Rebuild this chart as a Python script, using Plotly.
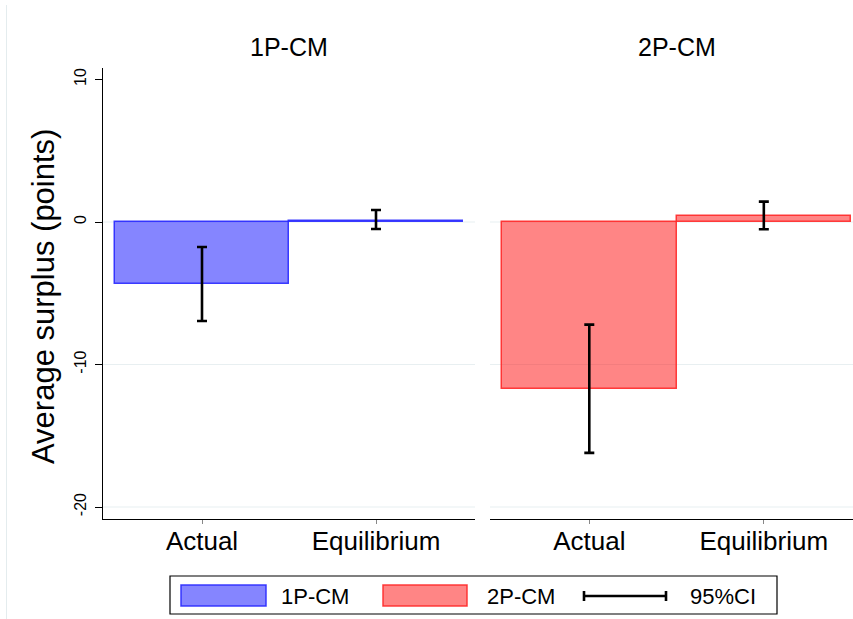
import plotly.graph_objects as go

# ---- data -------------------------------------------------------------
categories = ["Actual", "Equilibrium"]
panels = ["1P-CM", "2P-CM"]

mean_1p = [-4.35, 0.08]
ci_hi_1p = [-1.75, 0.84]
ci_lo_1p = [-6.95, -0.49]

mean_2p = [-11.70, 0.42]
ci_hi_2p = [-7.20, 1.43]
ci_lo_2p = [-16.20, -0.51]

y_ticks = [10, 0, -10, -20]
grid_vals = [0, -10, -20]

# ---- styling ----------------------------------------------------------
W, H = 853, 619
FONT = "Arial, Liberation Sans, sans-serif"
BLUE_FILL = "rgba(0,0,255,0.48)"
BLUE_EDGE = "rgba(40,40,255,0.9)"
RED_FILL = "rgba(255,0,0,0.48)"
RED_EDGE = "rgba(255,40,40,0.9)"
GRID = "#e8eff1"


def px(x):
    return x / W


def py(y):
    return 1 - y / H


fig = go.Figure()

series = [
    ("x", "y", mean_1p, ci_hi_1p, ci_lo_1p, BLUE_FILL, BLUE_EDGE),
    ("x2", "y2", mean_2p, ci_hi_2p, ci_lo_2p, RED_FILL, RED_EDGE),
]
for xa, ya, m, hi, lo, fill, edge in series:
    fig.add_trace(go.Bar(
        x=categories, y=m, width=1.0,
        xaxis=xa, yaxis=ya,
        marker=dict(color=fill, line=dict(color=edge, width=1.5)),
        error_y=dict(
            type="data", symmetric=False,
            array=[h - v for h, v in zip(hi, m)],
            arrayminus=[v - l for l, v in zip(lo, m)],
            color="black", thickness=2.6, width=5,
        ),
        showlegend=False, hoverinfo="skip",
    ))

y_top = (222 - 68) / 14.25
y_bot = (222 - 519) / 14.25
y_dom = [py(519), py(68)]

xaxis_common = dict(
    type="category", showline=True, linecolor="black", linewidth=1,
    ticks="outside", ticklen=4, tickcolor="#888888", tickwidth=1,
    ticklabelstandoff=-5,
    tickfont=dict(family=FONT, size=26, color="black"),
    showgrid=False, zeroline=False, fixedrange=True,
)
fig.update_layout(
    width=W, height=H,
    margin=dict(l=0, r=0, t=0, b=0),
    paper_bgcolor="white", plot_bgcolor="white",
    bargap=0,
    xaxis=dict(domain=[px(103), px(475)], range=[-0.569, 1.569], anchor="y",
               **xaxis_common),
    xaxis2=dict(domain=[px(490), 1.0], range=[-0.569, 1.511], anchor="y2",
                **xaxis_common),
    yaxis=dict(domain=y_dom, range=[y_bot, y_top], anchor="x",
               tickvals=y_ticks, ticktext=[str(t) for t in y_ticks],
               tickangle=-90, ticks="outside", ticklen=7, tickcolor="black",
               ticklabelstandoff=3,
               showline=True, linecolor="black", linewidth=1,
               tickfont=dict(family=FONT, size=16, color="black"),
               showgrid=False, zeroline=False, fixedrange=True),
    yaxis2=dict(domain=y_dom, range=[y_bot, y_top], anchor="x2",
                showticklabels=False, ticks="", showline=False,
                showgrid=False, zeroline=False, fixedrange=True),
)

shapes = []
# horizontal gridlines in both panels
for ax_x, ax_y in (("x", "y"), ("x2", "y2")):
    for g in grid_vals:
        shapes.append(dict(type="line", xref=f"{ax_x} domain", yref=ax_y,
                           x0=0, x1=1, y0=g, y1=g, layer="below",
                           line=dict(color=GRID, width=1.2)))

# faint outer frame on the left edge
shapes.append(dict(type="line", xref="paper", yref="paper",
                   x0=px(6.5), x1=px(6.5), y0=0, y1=py(5),
                   line=dict(color="#e4ecee", width=1)))

# legend box and keys
shapes.append(dict(type="rect", xref="paper", yref="paper",
                   x0=px(170), x1=px(777), y0=py(614), y1=py(576),
                   line=dict(color="black", width=1.2), fillcolor="white"))
shapes.append(dict(type="rect", xref="paper", yref="paper",
                   x0=px(181), x1=px(266), y0=py(606), y1=py(585),
                   line=dict(color=BLUE_EDGE, width=1.5), fillcolor=BLUE_FILL))
shapes.append(dict(type="rect", xref="paper", yref="paper",
                   x0=px(383), x1=px(467), y0=py(606), y1=py(585),
                   line=dict(color=RED_EDGE, width=1.5), fillcolor=RED_FILL))
shapes.append(dict(type="line", xref="paper", yref="paper",
                   x0=px(583), x1=px(667), y0=py(596), y1=py(596),
                   line=dict(color="black", width=2.6)))
for xc in (584, 666):
    shapes.append(dict(type="line", xref="paper", yref="paper",
                       x0=px(xc), x1=px(xc), y0=py(591), y1=py(601),
                       line=dict(color="black", width=2.6)))
fig.update_layout(shapes=shapes)

annotations = []
# panel titles
for name, xc in zip(panels, (289, 677)):
    annotations.append(dict(text=name, xref="paper", yref="paper",
                            x=px(xc), y=py(47), xanchor="center", yanchor="middle",
                            showarrow=False,
                            font=dict(family=FONT, size=25, color="black")))
# y axis title
annotations.append(dict(text="Average surplus (points)", xref="paper", yref="paper",
                        x=px(43), y=py(297), xanchor="center", yanchor="middle",
                        textangle=-90, showarrow=False,
                        font=dict(family=FONT, size=31, color="black")))
# legend labels
for label, xl in (("1P-CM", 279), ("2P-CM", 485), ("95%CI", 688)):
    annotations.append(dict(text=label, xref="paper", yref="paper",
                            x=px(xl), y=py(596), xanchor="left", yanchor="middle",
                            showarrow=False,
                            font=dict(family=FONT, size=22, color="black")))
fig.update_layout(annotations=annotations)

fig.write_html("out.html")
